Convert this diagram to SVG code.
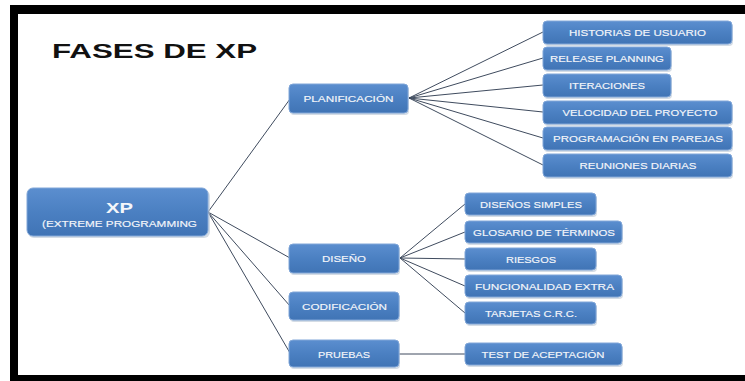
<svg xmlns="http://www.w3.org/2000/svg" width="745" height="381" viewBox="0 0 745 381">
<defs>
<linearGradient id="g" x1="0" y1="0" x2="0" y2="1">
<stop offset="0" stop-color="#5b8ecf"/>
<stop offset="0.5" stop-color="#4b80c2"/>
<stop offset="1" stop-color="#4074b5"/>
</linearGradient>
<style>
.b{fill:url(#g);stroke:#80a6d8;stroke-width:1}
.s{fill:#b8c4d4;opacity:0.6}
.t{font-family:"Liberation Sans",Arial,sans-serif;font-size:9.5px;fill:#f4f6fa;stroke:#f4f6fa;stroke-width:0.15;text-anchor:middle}
.c{stroke:#3f4b5e;stroke-width:1;fill:none}
</style>
</defs>
<rect x="10" y="5" width="735" height="376" fill="#000"/>
<rect x="18" y="14" width="727" height="361" fill="#fff"/>
<text x="52" y="58" font-family="Liberation Sans,Arial,sans-serif" font-weight="bold" font-size="21" fill="#111" textLength="205" lengthAdjust="spacingAndGlyphs">FASES DE XP</text>
<g id="connectors">
<path class="c" d="M208 212 L290 99 M208 212 L290 258 M208 212 L290 306 M208 212 L290 353"/>
<path class="c" d="M409 98 L543 32 M409 98 L543 58 M409 98 L543 85 M409 98 L543 112 M409 98 L543 138 M409 98 L543 165"/>
<path class="c" d="M400 258 L465 204 M400 258 L465 232 M400 258 L465 259 M400 258 L465 286 M400 258 L465 313"/>
<path class="c" d="M399 354 L465 354"/>
</g>
<g id="xp">
<rect class="s" x="28" y="190" width="182" height="48" rx="6"/>
<rect class="b" x="27" y="188" width="181" height="48" rx="6"/>
<text x="119.5" y="213" font-family="Liberation Sans,Arial,sans-serif" font-weight="bold" font-size="15" fill="#f4f6fa" text-anchor="middle" textLength="27" lengthAdjust="spacingAndGlyphs">XP</text>
<text class="t" x="119.5" y="227" font-size="10" textLength="155" lengthAdjust="spacingAndGlyphs">(EXTREME PROGRAMMING</text>
</g>
<g id="planificacion">
<rect class="s" x="290" y="86" width="119" height="29" rx="4"/>
<rect class="b" x="289" y="84" width="119" height="29" rx="4"/>
<text class="t" x="348.5" y="102" textLength="90" lengthAdjust="spacingAndGlyphs">PLANIFICACIÓN</text>
</g>
<g id="diseno">
<rect class="s" x="290" y="246" width="110" height="29" rx="4"/>
<rect class="b" x="289" y="244" width="110" height="29" rx="4"/>
<text class="t" x="344" y="262" textLength="44" lengthAdjust="spacingAndGlyphs">DISEÑO</text>
</g>
<g id="codificacion">
<rect class="s" x="290" y="294" width="110" height="28" rx="4"/>
<rect class="b" x="289" y="292" width="110" height="28" rx="4"/>
<text class="t" x="344.5" y="310" textLength="85" lengthAdjust="spacingAndGlyphs">CODIFICACIÓN</text>
</g>
<g id="pruebas">
<rect class="s" x="290" y="342" width="110" height="27" rx="4"/>
<rect class="b" x="289" y="340" width="110" height="27" rx="4"/>
<text class="t" x="344" y="357.5" textLength="52" lengthAdjust="spacingAndGlyphs">PRUEBAS</text>
</g>
<g id="historias">
<rect class="s" x="544" y="23" width="189" height="23" rx="4"/>
<rect class="b" x="543" y="21" width="189" height="23" rx="4"/>
<text class="t" x="637.5" y="36" textLength="137" lengthAdjust="spacingAndGlyphs">HISTORIAS DE USUARIO</text>
</g>
<g id="release">
<rect class="s" x="544" y="49" width="128" height="23" rx="4"/>
<rect class="b" x="543" y="47" width="128" height="23" rx="4"/>
<text class="t" x="607" y="62" textLength="114" lengthAdjust="spacingAndGlyphs">RELEASE PLANNING</text>
</g>
<g id="iteraciones">
<rect class="s" x="544" y="76" width="128" height="23" rx="4"/>
<rect class="b" x="543" y="74" width="128" height="23" rx="4"/>
<text class="t" x="607" y="89" textLength="76" lengthAdjust="spacingAndGlyphs">ITERACIONES</text>
</g>
<g id="velocidad">
<rect class="s" x="544" y="103" width="189" height="23" rx="4"/>
<rect class="b" x="543" y="101" width="189" height="23" rx="4"/>
<text class="t" x="640" y="116" textLength="155" lengthAdjust="spacingAndGlyphs">VELOCIDAD DEL PROYECTO</text>
</g>
<g id="programacion">
<rect class="s" x="544" y="129" width="189" height="23" rx="4"/>
<rect class="b" x="543" y="127" width="189" height="23" rx="4"/>
<text class="t" x="638" y="142" textLength="170" lengthAdjust="spacingAndGlyphs">PROGRAMACIÓN EN PAREJAS</text>
</g>
<g id="reuniones">
<rect class="s" x="544" y="156" width="189" height="23" rx="4"/>
<rect class="b" x="543" y="154" width="189" height="23" rx="4"/>
<text class="t" x="638" y="169" textLength="117" lengthAdjust="spacingAndGlyphs">REUNIONES DIARIAS</text>
</g>
<g id="disenos-simples">
<rect class="s" x="466" y="195" width="131" height="22" rx="4"/>
<rect class="b" x="465" y="193" width="131" height="22" rx="4"/>
<text class="t" x="531" y="207.5" textLength="102" lengthAdjust="spacingAndGlyphs">DISEÑOS SIMPLES</text>
</g>
<g id="glosario">
<rect class="s" x="466" y="223" width="157" height="22" rx="4"/>
<rect class="b" x="465" y="221" width="157" height="22" rx="4"/>
<text class="t" x="544" y="235.5" textLength="142" lengthAdjust="spacingAndGlyphs">GLOSARIO DE TÉRMINOS</text>
</g>
<g id="riesgos">
<rect class="s" x="466" y="250" width="131" height="22" rx="4"/>
<rect class="b" x="465" y="248" width="131" height="22" rx="4"/>
<text class="t" x="531" y="262.5" textLength="50" lengthAdjust="spacingAndGlyphs">RIESGOS</text>
</g>
<g id="funcionalidad">
<rect class="s" x="466" y="277" width="157" height="22" rx="4"/>
<rect class="b" x="465" y="275" width="157" height="22" rx="4"/>
<text class="t" x="544.5" y="289.5" textLength="139" lengthAdjust="spacingAndGlyphs">FUNCIONALIDAD EXTRA</text>
</g>
<g id="tarjetas">
<rect class="s" x="466" y="304" width="131" height="22" rx="4"/>
<rect class="b" x="465" y="302" width="131" height="22" rx="4"/>
<text class="t" x="531" y="317" textLength="92" lengthAdjust="spacingAndGlyphs">TARJETAS C.R.C.</text>
</g>
<g id="test">
<rect class="s" x="466" y="345" width="157" height="22" rx="4"/>
<rect class="b" x="465" y="343" width="157" height="22" rx="4"/>
<text class="t" x="543" y="358" textLength="123" lengthAdjust="spacingAndGlyphs">TEST DE ACEPTACIÓN</text>
</g>
</svg>
